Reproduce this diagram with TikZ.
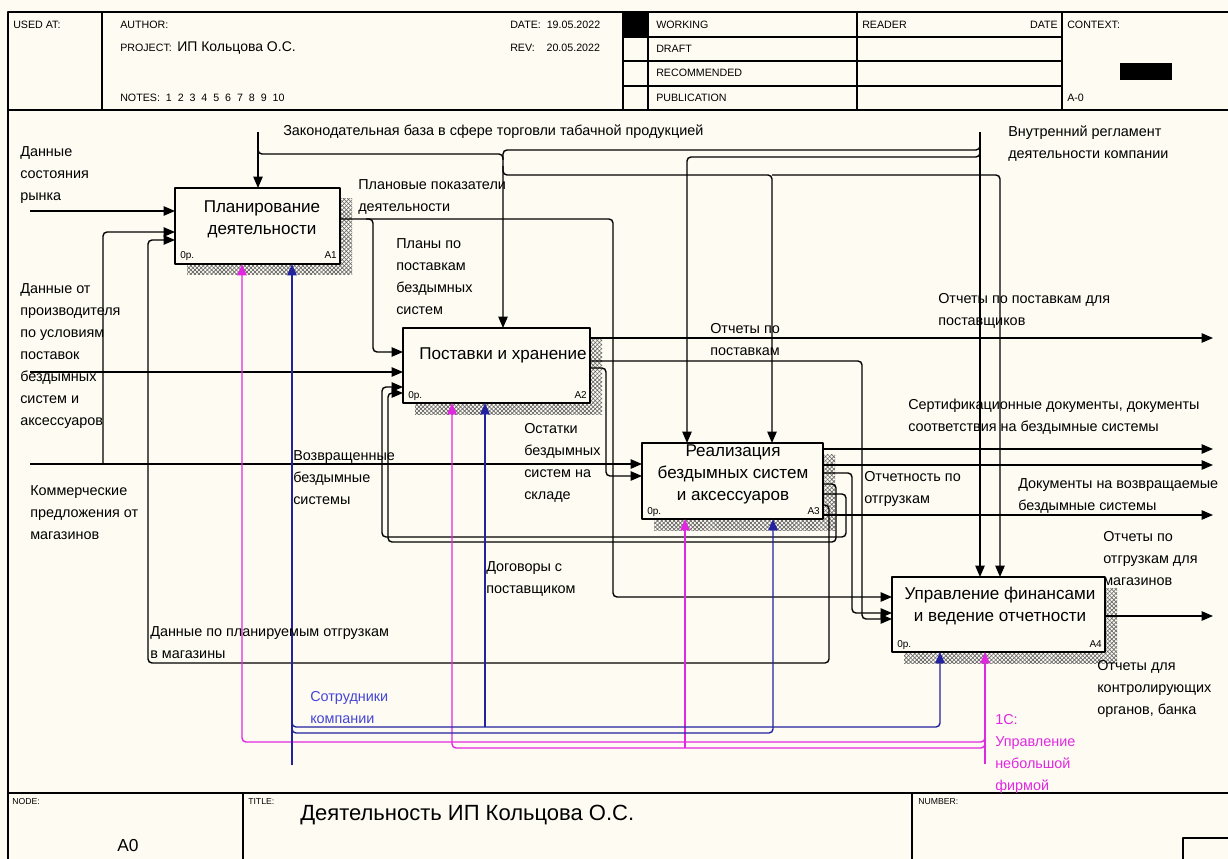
\documentclass[tikz,border=0pt]{standalone}
\usepackage{fontspec}
\setmainfont{Liberation Sans}
\usetikzlibrary{arrows.meta,patterns.meta}
\definecolor{paper}{RGB}{253,251,242}
\definecolor{softmag}{RGB}{225,40,225}
\definecolor{staffblue}{RGB}{35,35,160}
\definecolor{stafftext}{RGB}{70,70,215}
\newcommand\hdrfont{\fontsize{8}{9}\selectfont}
\newcommand\tinyhdr{\fontsize{6.5}{8}\selectfont}
\newcommand\lblfont{\fontsize{10.8}{16.5}\selectfont}
\newcommand\boxfont{\fontsize{12.8}{16.5}\selectfont}
\newcommand\cornerfont{\fontsize{7.5}{9}\selectfont}
\tikzset{
  frameline/.style={line width=0.9pt},
  fbox/.style={draw, line width=1.1pt, fill=paper, inner sep=0pt, outer sep=0pt},
  shadeA/.style={pattern={Lines[angle=45,distance=2.2pt,line width=0.5pt]}, pattern color=black!60},
  shadeB/.style={pattern={Lines[angle=-45,distance=2.2pt,line width=0.5pt]}, pattern color=black!60},
  flow/.style={line width=1.05pt, rounded corners=3pt, -{Triangle[length=8.5pt,width=7pt]}},
  link/.style={line width=1.05pt, rounded corners=3pt},
  softflow/.style={flow, color=softmag},
  staffflow/.style={flow, color=staffblue},
  lbl/.style={anchor=north west, inner sep=0pt, align=left, font=\lblfont},
  hdr/.style={anchor=west, inner sep=0pt, font=\hdrfont},
  btext/.style={inner sep=0pt, align=center, font=\boxfont},
  corner/.style={inner sep=0pt, font=\cornerfont},
}
\begin{document}
\begin{tikzpicture}[x=0.75pt,y=-0.75pt,line join=round]
\useasboundingbox (0,0) rectangle (1228,859);
\fill[paper] (0,0) rectangle (1228,859);

% ---------- header frame ----------
\draw[frameline] (8,859) -- (8,12) -- (1228,12);
\draw[frameline] (8,110) -- (1228,110);
\foreach \xx in {102,623,648,857,1062} \draw[frameline] (\xx,12) -- (\xx,110);
\foreach \yy in {37,61,86} \draw[frameline] (623,\yy) -- (1062,\yy);
\fill (623,12) rectangle (648,37);
\fill (1120,63) rectangle (1172,80);

\node[hdr] (hUsed) at (13,25) {USED AT:};
\node[hdr] (hAuthor) at (120,25) {AUTHOR:};
\node[hdr] (hProject) at (120,48) {PROJECT:};
\node[hdr, font=\fontsize{10.5}{12}\selectfont] (hProjName) at (177,48) {ИП Кольцова О.С.};
\node[hdr] (hNotes) at (120,98) {NOTES:\ \ 1\ \ 2\ \ 3\ \ 4\ \ 5\ \ 6\ \ 7\ \ 8\ \ 9\ \ 10};
\node[hdr] (hDate) at (510,25) {DATE:\ \ 19.05.2022};
\node[hdr] (hRev) at (510,48) {REV:\ \ \ \ 20.05.2022};
\node[hdr] (hWork) at (656,25) {WORKING};
\node[hdr] (hDraft) at (656,49) {DRAFT};
\node[hdr] (hRecom) at (656,73) {RECOMMENDED};
\node[hdr] (hPubl) at (656,98) {PUBLICATION};
\node[hdr] (hReader) at (862,25) {READER};
\node[hdr, anchor=east] (hRDate) at (1058,25) {DATE};
\node[hdr] (hContext) at (1067,25) {CONTEXT:};
\node[hdr] (hCtxNo) at (1067,98) {A-0};

% ---------- footer ----------
\draw[frameline] (8,793) -- (1228,793);
\draw[frameline] (243,793) -- (243,859);
\draw[frameline] (912,793) -- (912,859);
\draw[frameline] (1183,859) -- (1183,838) -- (1228,838);
\node[anchor=north west, inner sep=0pt, font=\tinyhdr] (fNode) at (12,798) {NODE:};
\node[anchor=north west, inner sep=0pt, font=\tinyhdr] (fTitle) at (248,798) {TITLE:};
\node[anchor=north west, inner sep=0pt, font=\tinyhdr] (fNumber) at (918,798) {NUMBER:};
\node[inner sep=0pt, font=\fontsize{13}{15}\selectfont] (fA0) at (128,846) {A0};
\node[anchor=west, inner sep=0pt, font=\fontsize{16.5}{19}\selectfont] (fTitleText) at (300,815) {Деятельность ИП Кольцова О.С.};

% ---------- shadows of the function boxes ----------
\foreach \ax/\ay/\bx/\by in {187/199/352/275, 415/339/602/414, 654/454/835/530, 904/588/1117/663}{
  \fill[shadeA] (\ax,\ay) rectangle (\bx,\by);
  \fill[shadeB] (\ax,\ay) rectangle (\bx,\by);
}

% ---------- function boxes ----------
\node[fbox, minimum width=123.75pt, minimum height=57pt] (A1) at (257.5,226) {};
\node[fbox, minimum width=140.25pt, minimum height=56.25pt] (A2) at (496.5,365.5) {};
\node[fbox, minimum width=135.75pt, minimum height=57pt] (A3) at (732.5,481) {};
\node[fbox, minimum width=159.75pt, minimum height=56.25pt] (A4) at (998.5,614.5) {};

\node[btext] (A1t) at (262,219) {Планирование\\деятельности};
\node[btext] (A2t) at (503,355) {Поставки и хранение};
\node[btext] (A3t) at (733,474) {Реализация\\бездымных систем\\и аксессуаров};
\node[btext] (A4t) at (1000,606.5) {Управление финансами\\и ведение отчетности};

\node[corner, anchor=base west] (A1c) at (180,259) {0р.};
\node[corner, anchor=base east] (A1n) at (337,259) {A1};
\node[corner, anchor=base west] (A2c) at (408,398) {0р.};
\node[corner, anchor=base east] (A2n) at (587,398) {A2};
\node[corner, anchor=base west] (A3c) at (647,514) {0р.};
\node[corner, anchor=base east] (A3n) at (820,514) {A3};
\node[corner, anchor=base west] (A4c) at (897,647) {0р.};
\node[corner, anchor=base east] (A4n) at (1102,647) {A4};

% ---------- boundary points ----------
\coordinate (inMarket) at (30,211);
\coordinate (inMaker) at (30,372);
\coordinate (inOffers) at (30,464);
\coordinate (ctlLaw) at (258,132);
\coordinate (ctlReg) at (980,132);
\coordinate (outSup) at (1213,338);
\coordinate (outCert) at (1213,449);
\coordinate (outCert2) at (1213,465);
\coordinate (outDocs) at (1213,515);
\coordinate (outRep) at (1213,616);
\coordinate (mechSoft) at (985,764);
\coordinate (mechStaff) at (292,765);

% ---------- inputs ----------
\draw[flow] (inMarket) -- (A1.west |- inMarket);
\draw[flow] (inMaker) -- (A2.west |- inMaker);
\draw[flow] (inOffers) -- (A3.west |- inOffers);
\draw[flow] (103,464) -- (103,232) -- (A1.west |- 0,232);

% ---------- controls ----------
\draw[flow] (ctlLaw) -- (A1.north -| ctlLaw);
\draw[flow] (258,146) |- (503,154) -- (A2.north -| 503,0);
\draw[flow] (503,166) |- (772,175) -- (A3.north -| 772,0);
\draw[flow] (772,175) -- (1000,175) -- (A4.north -| 1000,0);
\draw[flow] (ctlReg) -- (A4.north -| ctlReg);
\draw[link] (980,140) |- (503,150) -- (503,160);
\draw[flow] (980,146) |- (687,157) -- (A3.north -| 687,0);

% ---------- outputs of A1 ----------
\draw[flow] (A1.east |- 0,219) -- (613,219) -- (613,597) -- (A4.west |- 0,597);
\draw[flow] (366,219) -| (373,352) -- (A2.west |- 0,352);

% ---------- outputs of A2 ----------
\draw[flow] (A2.east |- outSup) -- (outSup);
\draw[flow] (A2.east |- 0,361) -- (862,361) -- (862,619) -- (A4.west |- 0,619);
\draw[flow] (A2.east |- 0,368) -- (606,368) -- (606,476) -- (A3.west |- 0,476);

% ---------- outputs of A3 ----------
\draw[flow] (A3.east |- outCert) -- (outCert);
\draw[flow] (A3.east |- outCert2) -- (outCert2);
\draw[flow] (A3.east |- 0,473) -- (852,473) -- (852,613) -- (A4.west |- 0,613);
\draw[flow] (A3.east |- 0,494) -- (846,494) -- (846,537) -- (382,537) -- (382,387) -- (A2.west |- 0,387);
\draw[flow] (A3.east |- 0,484) -- (836,484) -- (836,542) -- (388,542) -- (388,393) -- (A2.west |- 0,393);
\draw[flow] (A3.east |- 0,505) -- (829,505) -- (829,663) -- (148,663) -- (148,240) -- (A1.west |- 0,240);
\draw[flow] (A3.east |- outDocs) -- (outDocs);

% ---------- output of A4 ----------
\draw[flow] (A4.east |- outRep) -- (outRep);

% ---------- mechanisms ----------
\draw[softflow] (mechSoft) -- (A4.south -| mechSoft);
\draw[softflow] (985,734) |- (242,742) -- (A1.south -| 242,0);
\draw[softflow] (985,738) |- (452,748) -- (A2.south -| 452,0);
\draw[softflow] (685,748) -- (A3.south -| 685,0);
\draw[staffflow] (mechStaff) -- (A1.south -| mechStaff);
\draw[staffflow] (292,720) |- (940,727) -- (A4.south -| 940,0);
\draw[staffflow] (485,727) -- (A2.south -| 485,0);
\draw[staffflow] (292,725) |- (773,733) -- (A3.south -| 773,0);

% ---------- arrow labels ----------
\node[lbl] (lMarket) at (20,146) {Данные\\состояния\\рынка};
\node[lbl] (lMaker) at (20,283) {Данные от\\производителя\\по условиям\\поставок\\бездымных\\систем и\\аксессуаров};
\node[lbl] (lOffers) at (30,485) {Коммерческие\\предложения от\\магазинов};
\node[lbl] (lLaw) at (283,125) {Законодательная база в сфере торговли табачной продукцией};
\node[lbl] (lReg) at (1008,126) {Внутренний регламент\\деятельности компании};
\node[lbl] (lPlanInd) at (358,179) {Плановые показатели\\деятельности};
\node[lbl] (lPlans) at (396,238) {Планы по\\поставкам\\бездымных\\систем};
\node[lbl] (lRepSup) at (938,293) {Отчеты по поставкам для\\поставщиков};
\node[lbl] (lRep) at (710,323) {Отчеты по\\поставкам};
\node[lbl] (lCert) at (908,399) {Сертификационные документы, документы\\соответствия на бездымные системы};
\node[lbl] (lStock) at (524,423) {Остатки\\бездымных\\систем на\\складе};
\node[lbl] (lRet) at (293,450) {Возвращенные\\бездымные\\системы};
\node[lbl] (lDocs) at (1018,478) {Документы на возвращаемые\\бездымные системы};
\node[lbl] (lShip) at (864,471) {Отчетность по\\отгрузкам};
\node[lbl] (lShopRep) at (1103,531) {Отчеты по\\отгрузкам для\\магазинов};
\node[lbl] (lContr) at (486,561) {Договоры с\\поставщиком};
\node[lbl] (lPlanShip) at (150,626) {Данные по планируемым отгрузкам\\в магазины};
\node[lbl, text=stafftext] (lStaff) at (310,691) {Сотрудники\\компании};
\node[lbl] (lAuth) at (1097,660) {Отчеты для\\контролирующих\\органов, банка};
\node[lbl, text=softmag] (lSoft) at (995,714) {1С:\\Управление\\небольшой\\фирмой};
\end{tikzpicture}
\end{document}
